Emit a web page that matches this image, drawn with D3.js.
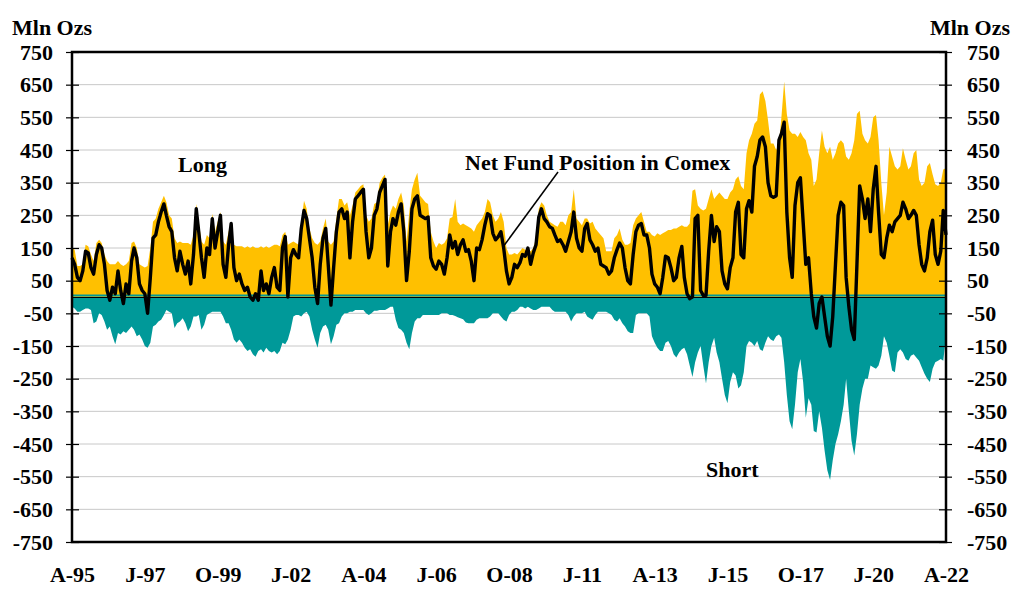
<!DOCTYPE html>
<html>
<head>
<meta charset="utf-8">
<script src="https://cdn.jsdelivr.net/npm/d3@7"></script>
<style>
body { margin: 0; background: #fff; }
svg text { font-family: "Liberation Serif", "Times New Roman", serif; font-weight: bold; fill: #000; }
</style>
</head>
<body>
<div id="chart"></div>
<script>
// monthly readings, Apr 1995 .. Apr 2022 (mln oz)
const startMonth = "1995-04";

const longPos = [
	150,145,95,95,100,160,155,130,110,165,175,165,
	130,110,100,100,100,110,100,95,100,110,165,170,
	150,100,95,90,95,150,230,240,270,290,310,290,
	250,240,180,165,170,165,165,165,160,190,285,230,
	170,160,190,180,255,200,230,260,170,160,200,230,
	160,155,155,155,150,155,150,155,150,150,155,150,
	155,150,155,160,160,155,190,200,160,165,170,165,
	160,230,295,270,210,180,165,160,170,210,240,170,
	160,170,240,300,300,280,290,250,280,320,330,340,
	345,250,230,240,285,290,350,365,375,220,260,280,
	270,300,320,280,170,260,330,360,380,310,300,290,
	285,200,170,150,165,160,165,180,240,245,300,230,
	220,225,220,215,210,200,220,230,240,260,300,290,
	250,230,240,260,230,150,130,130,135,130,140,150,
	145,145,140,150,180,270,290,280,250,230,225,220,
	215,230,230,220,250,260,330,240,230,220,240,240,
	225,230,210,200,190,180,140,140,140,180,190,210,
	175,160,160,165,220,240,250,260,230,200,200,190,
	185,195,190,195,200,205,205,210,210,215,220,215,
	215,225,325,330,280,270,265,270,300,330,300,310,
	320,310,300,300,320,330,360,370,340,330,440,480,
	500,530,540,620,630,600,540,470,470,450,470,550,
	660,560,510,500,500,490,505,490,480,440,420,340,
	360,440,510,460,440,460,420,440,470,480,470,430,
	420,440,480,560,570,500,480,470,490,550,557,480,
	350,250,320,460,430,400,390,400,455,420,390,400,
	440,450,360,340,350,400,410,375,345,340,350,390,
	395
];

const shortPos = [
	-30,-35,-45,-45,-40,-35,-35,-40,-80,-75,-50,-55,
	-75,-100,-90,-120,-145,-110,-115,-105,-110,-100,-90,-100,
	-120,-115,-130,-150,-155,-140,-90,-85,-75,-70,-55,-40,
	-45,-50,-95,-80,-75,-65,-80,-105,-90,-60,-60,-55,
	-100,-85,-55,-50,-45,-45,-45,-45,-60,-80,-80,-100,
	-130,-140,-130,-140,-155,-165,-160,-175,-183,-165,-160,-170,
	-155,-165,-170,-165,-175,-165,-140,-145,-130,-100,-60,-55,
	-55,-60,-50,-45,-60,-100,-130,-155,-110,-90,-85,-100,
	-145,-120,-85,-80,-60,-50,-50,-45,-45,-40,-40,-40,
	-40,-50,-55,-50,-42,-42,-40,-40,-40,-35,-30,-30,
	-70,-95,-100,-110,-140,-160,-110,-75,-65,-65,-55,-55,
	-55,-55,-55,-55,-55,-50,-50,-50,-55,-55,-58,-62,
	-65,-68,-78,-80,-80,-80,-70,-65,-65,-65,-65,-60,
	-50,-50,-50,-60,-70,-75,-55,-45,-45,-40,-30,-30,
	-35,-30,-35,-40,-40,-35,-30,-30,-30,-30,-40,-45,
	-45,-45,-45,-45,-55,-75,-60,-50,-50,-50,-45,-60,
	-65,-70,-55,-45,-45,-45,-45,-50,-55,-70,-75,-65,
	-80,-90,-105,-110,-110,-55,-50,-50,-50,-50,-60,-120,
	-140,-155,-165,-165,-140,-135,-150,-175,-185,-170,-160,-155,
	-175,-210,-245,-200,-170,-150,-210,-265,-200,-150,-125,-170,
	-200,-250,-300,-325,-260,-230,-240,-280,-270,-230,-150,-135,
	-140,-150,-135,-160,-165,-140,-120,-130,-135,-120,-115,-125,
	-200,-300,-380,-405,-330,-230,-190,-260,-370,-310,-330,-410,
	-415,-350,-400,-470,-530,-560,-500,-450,-420,-380,-330,-250,
	-350,-440,-485,-420,-330,-280,-250,-250,-210,-215,-220,-210,
	-180,-120,-140,-180,-225,-230,-170,-160,-170,-190,-195,-180,
	-175,-185,-195,-215,-235,-250,-260,-220,-200,-195,-190,-195,
	-120
];

const netPos = [
	120,100,60,50,80,140,135,90,70,130,160,150,
	100,20,-10,30,10,80,20,-20,40,10,110,150,
	120,40,20,10,-50,60,180,190,230,260,285,250,
	215,200,120,80,140,100,70,110,40,130,270,200,
	120,60,150,130,240,150,200,250,100,60,160,225,
	90,50,70,40,20,30,0,-10,10,-10,80,20,
	40,10,60,90,30,20,150,185,0,120,145,130,
	120,210,265,240,180,120,30,-20,100,180,210,100,
	-25,90,200,260,270,240,260,120,230,300,310,320,
	330,200,120,150,250,270,320,340,360,95,200,240,
	220,260,285,200,50,140,270,300,310,250,245,240,
	245,120,95,85,110,100,70,120,190,150,170,130,
	160,175,140,145,110,50,150,145,175,220,255,250,
	195,175,185,200,150,80,40,60,100,90,105,130,
	125,150,100,135,160,245,270,240,230,215,210,190,
	170,175,160,140,170,200,260,180,150,140,210,225,
	175,160,140,150,100,95,90,70,80,120,145,165,
	150,90,50,40,130,200,220,225,190,190,150,70,
	40,30,10,60,125,120,90,50,60,120,155,60,
	10,-5,0,240,250,20,5,5,140,250,170,215,
	200,80,40,25,90,120,260,290,130,120,270,295,
	260,400,430,480,490,460,350,310,305,310,480,500,
	535,260,120,60,280,350,365,230,100,120,10,-60,
	-95,-20,0,-60,-120,-150,-60,100,250,290,280,60,
	-30,-100,-130,100,340,300,240,300,200,330,400,260,
	130,120,180,220,200,230,240,250,290,270,240,250,
	265,250,160,100,80,120,200,235,130,100,140,265,
	190
];

const yTicks = [750, 650, 550, 450, 350, 250, 150, 50, -50, -150, -250, -350, -450, -550, -650, -750];
const xTickMonths = ["1995-04", "1997-07", "1999-10", "2002-01", "2004-04", "2006-07", "2008-10", "2011-01", "2013-04", "2015-07", "2017-10", "2020-01", "2022-04"];
const xTickLabels = ["A-95", "J-97", "O-99", "J-02", "A-04", "J-06", "O-08", "J-11", "A-13", "J-15", "O-17", "J-20", "A-22"];

function PositionChart(id){
	this.margin = { top: 52, right: 68, bottom: 47, left: 72 };
	this.id = id;
	this.fullWidth = 1014;
	this.fullHeight = 589;
	this.data = [];
	this.formatData();
}

PositionChart.prototype = {
	constructor: PositionChart,

	formatData: function(){
		let self = this;
		let parse = d3.timeParse("%Y-%m");
		let start = parse(startMonth);
		for (let i = 0; i < netPos.length; i++) {
			self.data.push({
				date: d3.timeMonth.offset(start, i),
				long: longPos[i],
				short: shortPos[i],
				net: netPos[i]
			});
		}
		self.ticks = xTickMonths.map(parse);
	},

	init: function(){
		let self = this;
		self.width = self.fullWidth - self.margin.left - self.margin.right;
		self.height = self.fullHeight - self.margin.top - self.margin.bottom;

		self.svg = d3.select(self.id).append("svg")
			.attr("width", self.fullWidth)
			.attr("height", self.fullHeight);

		let g = self.svg.append("g")
			.attr("transform", "translate(" + self.margin.left + "," + self.margin.top + ")");

		let x = d3.scaleTime()
			.domain([self.data[0].date, self.data[self.data.length - 1].date])
			.range([0, self.width]);
		let y = d3.scaleLinear().domain([-750, 750]).range([self.height, 0]);

		// gridlines
		g.append("g").selectAll("line")
			.data(yTicks.filter(function(d){ return Math.abs(d) < 750; }))
			.enter().append("line")
			.attr("x1", 0).attr("x2", self.width)
			.attr("y1", function(d){ return y(d); })
			.attr("y2", function(d){ return y(d); })
			.attr("stroke", "#c8c8c8")
			.attr("stroke-width", 1);

		let longArea = d3.area()
			.x(function(d){ return x(d.date); })
			.y0(y(0))
			.y1(function(d){ return y(d.long); });
		let shortArea = d3.area()
			.x(function(d){ return x(d.date); })
			.y0(y(0))
			.y1(function(d){ return y(d.short); });
		let netLine = d3.line()
			.x(function(d){ return x(d.date); })
			.y(function(d){ return y(d.net); });

		g.append("path").datum(self.data)
			.attr("fill", "#FFC000")
			.attr("d", longArea);
		g.append("path").datum(self.data)
			.attr("fill", "#009999")
			.attr("d", shortArea);

		// zero line
		g.append("line")
			.attr("x1", 0).attr("x2", self.width)
			.attr("y1", y(0) - 1.5).attr("y2", y(0) - 1.5)
			.attr("stroke", "#009999").attr("stroke-width", 2);
		g.append("line")
			.attr("x1", 0).attr("x2", self.width)
			.attr("y1", y(0) + 0.5).attr("y2", y(0) + 0.5)
			.attr("stroke", "#000").attr("stroke-width", 1.2);

		g.append("path").datum(self.data)
			.attr("fill", "none")
			.attr("stroke", "#000")
			.attr("stroke-width", 3.4)
			.attr("stroke-linejoin", "round")
			.attr("d", netLine);

		// frame
		g.append("rect")
			.attr("width", self.width).attr("height", self.height)
			.attr("fill", "none")
			.attr("stroke", "#000")
			.attr("stroke-width", 2.5);

		let fmt = function(d){ return String(d); };
		let yLeft = g.append("g")
			.call(d3.axisLeft(y).tickValues(yTicks).tickFormat(fmt).tickSize(6).tickPadding(13));
		yLeft.selectAll(".tick line").attr("x1", 7).attr("stroke-width", 1.2);
		let yRight = g.append("g")
			.attr("transform", "translate(" + self.width + ",0)")
			.call(d3.axisRight(y).tickValues(yTicks).tickFormat(fmt).tickSize(6).tickPadding(15));
		yRight.selectAll(".tick line").attr("x1", -7).attr("stroke-width", 1.2);

		let xAxis = g.append("g")
			.attr("transform", "translate(0," + self.height + ")")
			.call(d3.axisBottom(x).tickValues(self.ticks).tickSize(0)
				.tickFormat(function(d, i){ return xTickLabels[i]; }));
		xAxis.selectAll("text").attr("y", 40).attr("dy", null);

		[yLeft, yRight, xAxis].forEach(function(a){
			a.attr("font-size", null).attr("font-family", null);
			a.select(".domain").remove();
			a.selectAll("text").style("font-size", "22px");
		});

		// titles and labels
		self.svg.append("text").attr("x", 12).attr("y", 35)
			.style("font-size", "22px").text("Mln Ozs");
		self.svg.append("text").attr("x", 1010).attr("y", 35)
			.attr("text-anchor", "end")
			.style("font-size", "22px").text("Mln Ozs");

		g.append("text").attr("x", 106).attr("y", 120)
			.style("font-size", "22px").text("Long");
		g.append("text").attr("x", 634).attr("y", 425)
			.style("font-size", "22px").text("Short");
		g.append("text").attr("x", 393).attr("y", 118)
			.style("font-size", "22px").text("Net Fund Position in Comex");

		let anchor = self.data[160];
		g.append("line")
			.attr("x1", 486).attr("y1", 120)
			.attr("x2", x(anchor.date)).attr("y2", y(anchor.net) - 2)
			.attr("stroke", "#000").attr("stroke-width", 1.5);
	}
}

let chart = new PositionChart("#chart");
chart.init();
</script>
</body>
</html>
